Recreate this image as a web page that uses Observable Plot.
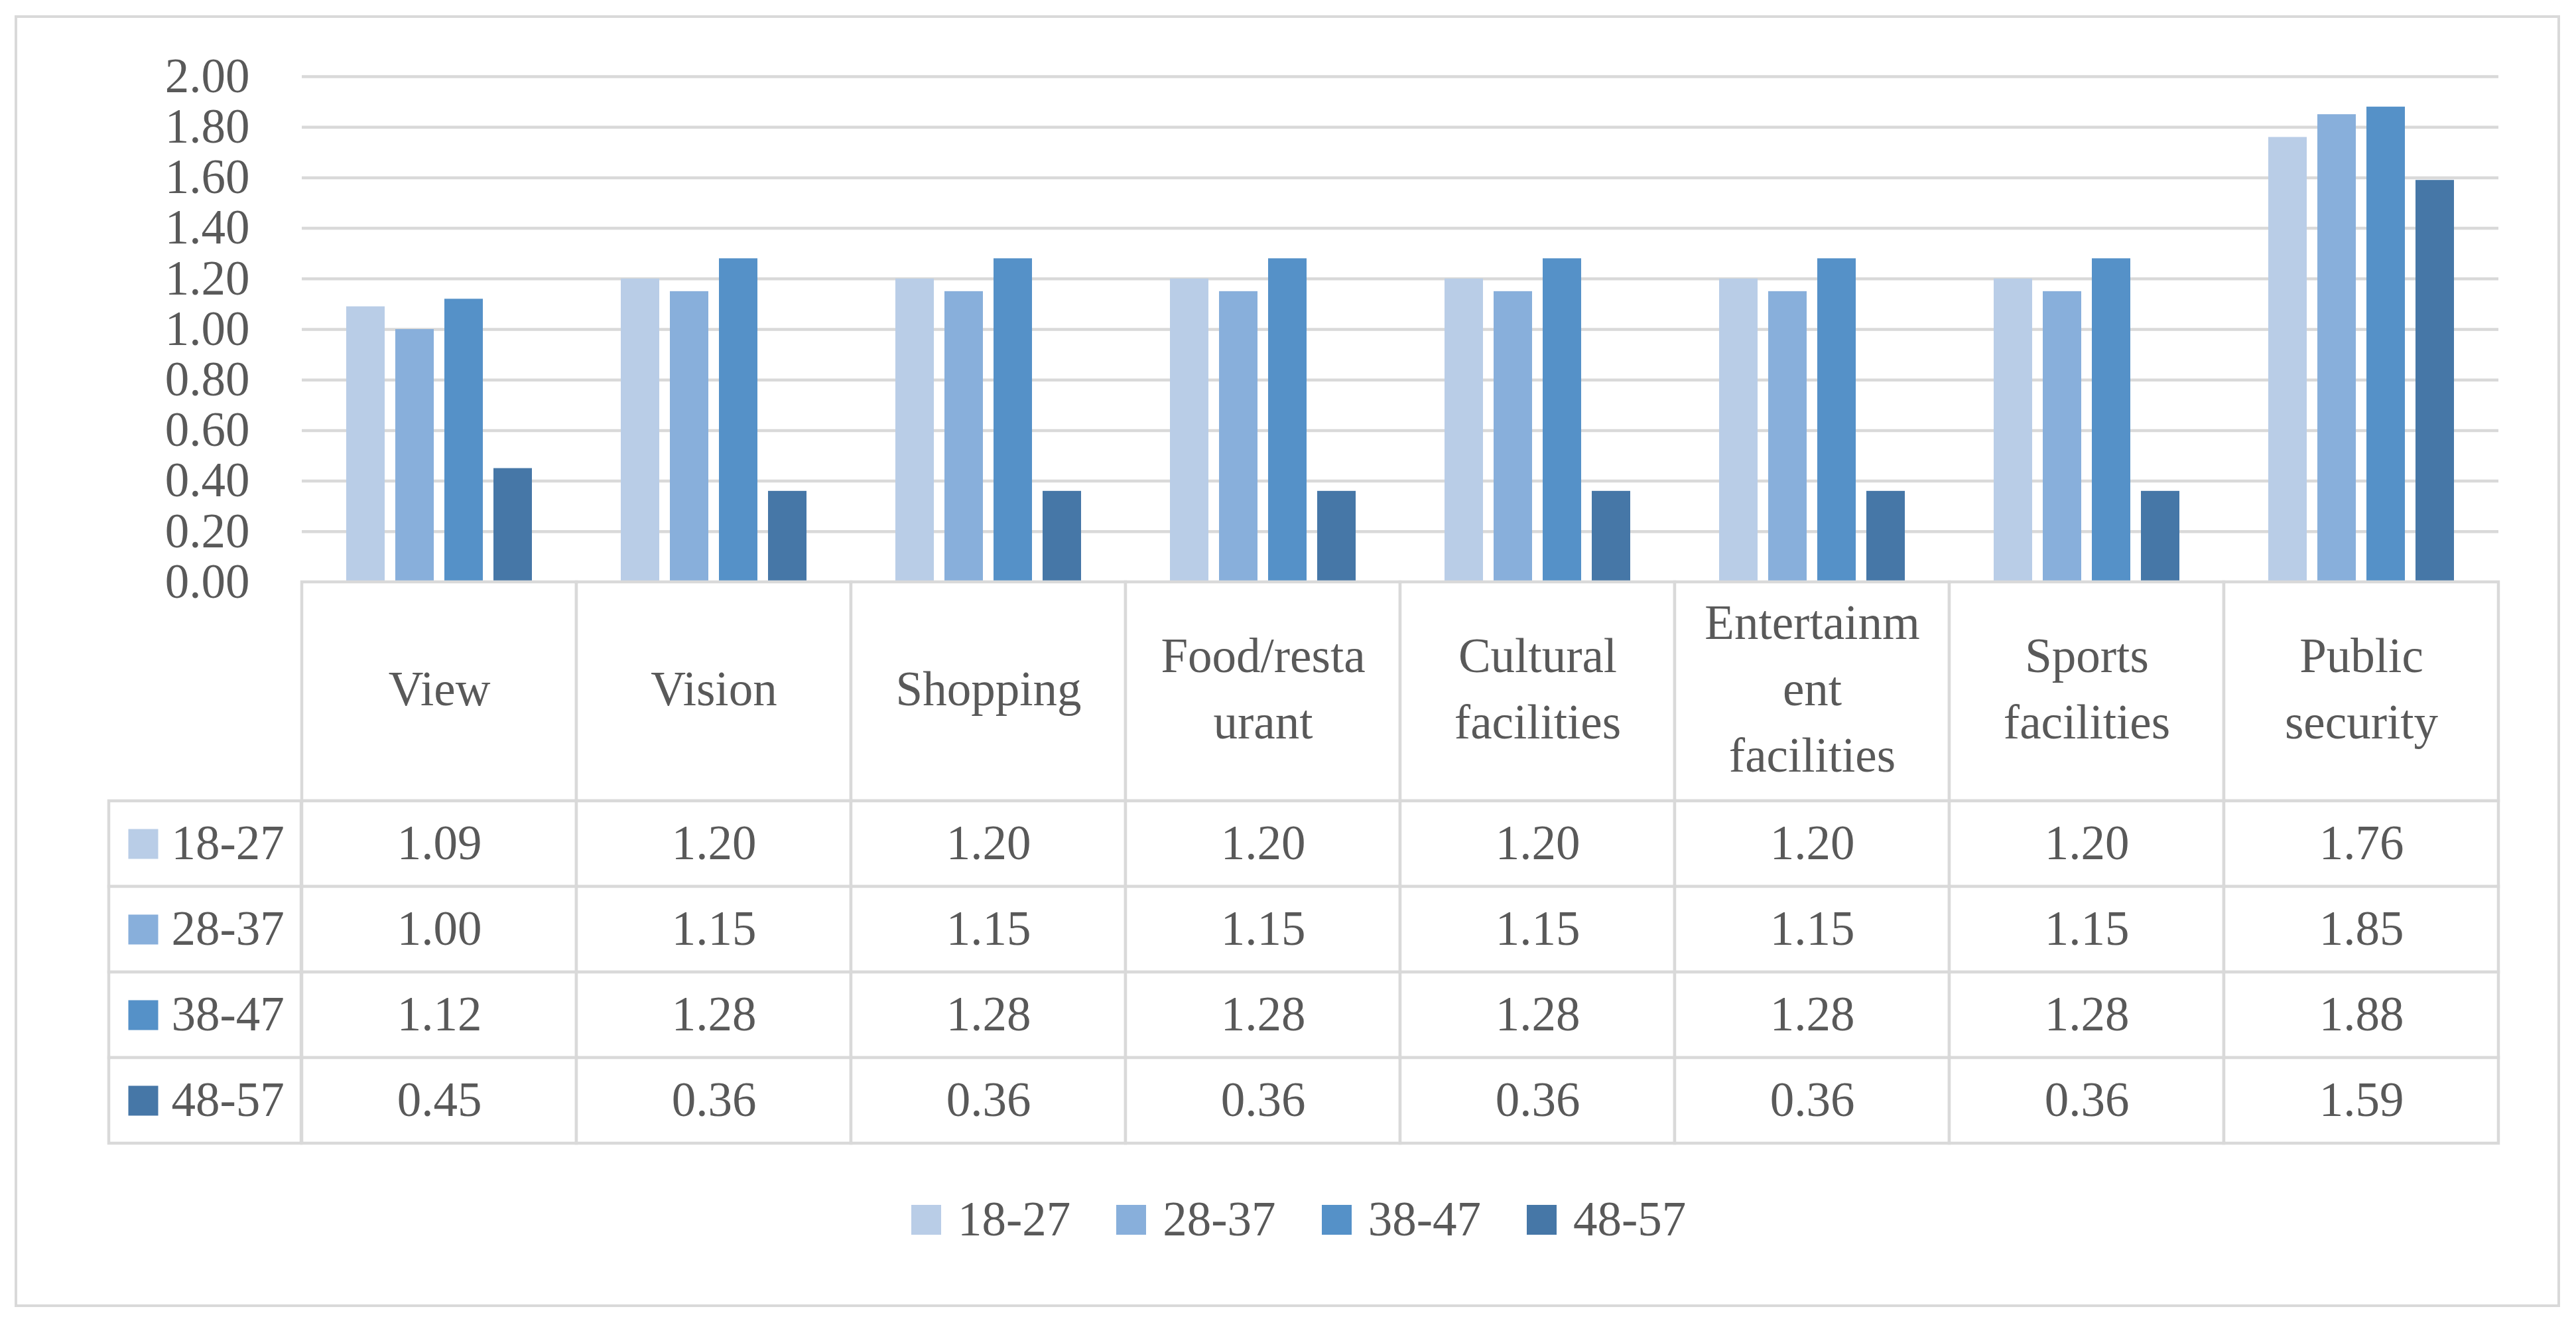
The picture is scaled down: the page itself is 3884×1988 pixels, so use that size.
<!DOCTYPE html>
<html>
<head>
<meta charset="utf-8">
<script src="https://cdn.jsdelivr.net/npm/d3@7"></script>
<script src="https://cdn.jsdelivr.net/npm/@observablehq/plot@0.6"></script>
<style>
  html, body { margin: 0; padding: 0; background: #ffffff; }
  #fig { position: relative; width: 3884px; height: 1988px; background: #ffffff; font-family: "Liberation Serif", serif; color: #595959; }
  #frame { position: absolute; left: 22px; top: 23px; width: 3838px; height: 1947px; border: 4px solid #d9d9d9; box-sizing: border-box; }
  .layer { position: absolute; left: 0; }
  .layer svg { overflow: visible; }
  #legendBox { position: absolute; left: 0; top: 1788px; width: 3884px; height: 100px; box-sizing: border-box; padding-left: 1374px; display: flex; justify-content: flex-start; align-items: center; font-family: "Liberation Serif", serif; font-size: 73px; color: #595959; }
  .lg-swatches { justify-content: flex-start; margin: 0 !important; font-size: 73px !important; font-family: "Liberation Serif", serif !important; color: #595959; }
  .lg-swatch { margin-right: 69px !important; }
  .lg-swatch > svg { margin-right: 25px !important; }
</style>
</head>
<body>
<div id="fig">
  <div id="frame"></div>
  <div id="chart" class="layer" style="top:0px"></div>
  <div id="header" class="layer" style="top:877px"></div>
  <div id="body" class="layer" style="top:1207px"></div>
  <div id="keys" class="layer" style="top:1207px"></div>
  <div id="legendBox"></div>
</div>
<script>
// ---- data ----
const categories = ["View", "Vision", "Shopping", "Food/restaurant", "Cultural facilities", "Entertainment facilities", "Sports facilities", "Public security"];
const categoryLabels = ["View", "Vision", "Shopping", "Food/resta\nurant", "Cultural\nfacilities", "Entertainm\nent\nfacilities", "Sports\nfacilities", "Public\nsecurity"];
const groups = ["18-27", "28-37", "38-47", "48-57"];
const values1827 = [1.09, 1.20, 1.20, 1.20, 1.20, 1.20, 1.20, 1.76];
const values2837 = [1.00, 1.15, 1.15, 1.15, 1.15, 1.15, 1.15, 1.85];
const values3847 = [1.12, 1.28, 1.28, 1.28, 1.28, 1.28, 1.28, 1.88];
const values4857 = [0.45, 0.36, 0.36, 0.36, 0.36, 0.36, 0.36, 1.59];
const yTicks = [0, 0.2, 0.4, 0.6, 0.8, 1.0, 1.2, 1.4, 1.6, 1.8, 2.0];
const colors = ["#b9cde7", "#88afdb", "#5591c8", "#4677a7"];

const series = [values1827, values2837, values3847, values4857];
const rows = [];
groups.forEach((g, gi) => categories.forEach((c, ci) => rows.push({cat: c, group: g, value: series[gi][ci]})));

const textColor = "#595959";
const lineColor = "#d9d9d9";
const fs = 73;
const baseStyle = {fontFamily: "'Liberation Serif', serif", fontSize: fs + "px", color: textColor, background: "transparent", overflow: "visible"};

// ---- bar chart ----
const chart = Plot.plot({
  width: 3884, height: 880,
  marginTop: 115, marginBottom: 3, marginLeft: 454, marginRight: 117,
  style: baseStyle,
  fx: {domain: categories, padding: 0, axis: null, label: null},
  x: {domain: groups, paddingInner: 0.21, paddingOuter: 0.87, axis: null},
  y: {domain: [0, 2], label: null},
  color: {domain: groups, range: colors},
  marks: [
    Plot.gridY(yTicks, {stroke: lineColor, strokeWidth: 4.5, strokeOpacity: 1}),
    Plot.axisY(yTicks, {tickSize: 0, tickPadding: 79, tickFormat: d => d.toFixed(2), label: null, fontSize: fs, fill: textColor}),
    Plot.barY(rows, {fx: "cat", x: "group", y: "value", fill: "group", inset: 0})
  ]
});
document.getElementById("chart").appendChild(chart);

// ---- table header (category names) ----
const header = Plot.plot({
  width: 3884, height: 330,
  marginTop: 0, marginBottom: 0, marginLeft: 454, marginRight: 117,
  style: baseStyle,
  x: {domain: categories, padding: 0, axis: null},
  marks: [
    Plot.cell(categories, {x: d => d, fill: "white", stroke: lineColor, strokeWidth: 4.5, inset: 0}),
    Plot.text(categories, {x: d => d, text: (d, i) => categoryLabels[i], lineHeight: 1.37, dy: -12, fontSize: fs, fill: textColor})
  ]
});
document.getElementById("header").appendChild(header);

// ---- table body (values) ----
const body = Plot.plot({
  width: 3884, height: 516,
  marginTop: 0, marginBottom: 0, marginLeft: 454, marginRight: 117,
  style: baseStyle,
  x: {domain: categories, padding: 0, axis: null},
  y: {domain: groups, padding: 0, axis: null},
  marks: [
    Plot.cell(rows, {x: "cat", y: "group", fill: "white", stroke: lineColor, strokeWidth: 4.5, inset: 0}),
    Plot.text(rows, {x: "cat", y: "group", text: d => d.value.toFixed(2), fontSize: fs, fill: textColor})
  ]
});
document.getElementById("body").appendChild(body);

// ---- table row keys ----
const keys = Plot.plot({
  width: 454, height: 516,
  marginTop: 0, marginBottom: 0, marginLeft: 164, marginRight: 0,
  style: baseStyle,
  y: {domain: groups, padding: 0, axis: null},
  color: {domain: groups, range: colors},
  marks: [
    Plot.cell(groups, {y: d => d, fill: "white", stroke: lineColor, strokeWidth: 4.5, inset: 0}),
    Plot.dot(groups, {y: d => d, frameAnchor: "left", dx: 51.5, fill: d => d, symbol: "square", r: 25.4, stroke: null}),
    Plot.text(groups, {y: d => d, frameAnchor: "left", dx: 94, textAnchor: "start", fontSize: fs, fill: textColor})
  ]
});
document.getElementById("keys").appendChild(keys);

// ---- legend ----
const legend = Plot.legend({
  color: {domain: groups, range: colors},
  legend: "swatches",
  swatchSize: 45,
  className: "lg"
});
document.getElementById("legendBox").appendChild(legend);
</script>
</body>
</html>
